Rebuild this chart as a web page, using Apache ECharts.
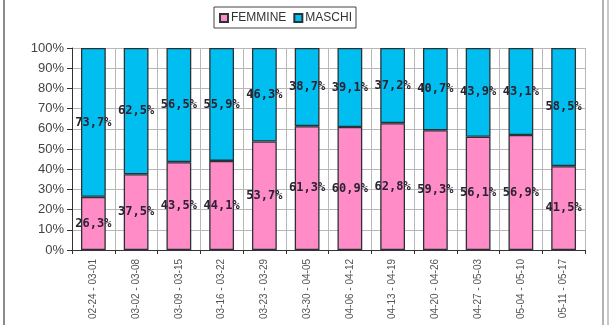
<!DOCTYPE html>
<html>
<head>
<meta charset="utf-8">
<script src="https://cdn.jsdelivr.net/npm/echarts@6/dist/echarts.min.js"></script>
<style>
html,body{margin:0;padding:0;background:#fff;}
#chart{width:612px;height:325px;}
</style>
</head>
<body>
<div id="chart"></div>
<script>
// Weekly split of cases by sex (percent)
const weeks = ['02-24 - 03-01','03-02 - 03-08','03-09 - 03-15','03-16 - 03-22','03-23 - 03-29','03-30 - 04-05',
               '04-06 - 04-12','04-13 - 04-19','04-20 - 04-26','04-27 - 05-03','05-04 - 05-10','05-11 - 05-17'];
const femmine = [26.3, 37.5, 43.5, 44.1, 53.7, 61.3, 60.9, 62.8, 59.3, 56.1, 56.9, 41.5];
const maschi  = [73.7, 62.5, 56.5, 55.9, 46.3, 38.7, 39.1, 37.2, 40.7, 43.9, 43.1, 58.5];
const yTicks = [0, 10, 20, 30, 40, 50, 60, 70, 80, 90, 100];

const chart = echarts.init(document.getElementById('chart'), null, {renderer: 'canvas'});

const pctLabel = {
  show: true,
  position: 'inside',
  fontFamily: 'DejaVu Sans Mono',
  fontWeight: 'bold',
  fontSize: 12,
  color: '#2b2230',
  formatter: p => p.value.toFixed(1).replace('.', ',') + '%'
};

chart.setOption({
  animation: false,
  backgroundColor: '#fff',
  graphic: [
    {type: 'line', shape: {x1: 4, y1: 0, x2: 4, y2: 325}, style: {stroke: '#8a8a8a', lineWidth: 2}},
    {type: 'line', shape: {x1: 603, y1: 0, x2: 603, y2: 325}, style: {stroke: '#9a9a9a', lineWidth: 1.5}},
    {type: 'line', shape: {x1: 608, y1: 0, x2: 608, y2: 325}, style: {stroke: '#c8c8c8', lineWidth: 2}}
  ],
  legend: {
    left: 214, top: 7,
    padding: [5, 4, 4, 5],
    borderColor: '#444', borderWidth: 1,
    itemWidth: 8, itemHeight: 8, itemGap: 7,
    icon: 'rect',
    textStyle: {fontFamily: 'Liberation Sans', fontSize: 12, color: '#333', padding: [0, 0, 0, -2]},
    data: ['FEMMINE', 'MASCHI']
  },
  grid: {left: 72, right: 27, top: 48, bottom: 75, containLabel: false, outerBoundsMode: 'none'},
  xAxis: {
    type: 'category',
    data: weeks,
    axisLine: {lineStyle: {color: '#333', width: 1}},
    axisTick: {show: true, length: 4, lineStyle: {color: '#333'}},
    splitLine: {show: true, lineStyle: {color: '#b8b8b8', width: 1}},
    axisLabel: {rotate: 90, margin: 9, fontSize: 10, fontFamily: 'Liberation Sans Narrow, Liberation Sans', color: '#555'}
  },
  yAxis: {
    type: 'value',
    min: yTicks[0], max: yTicks[yTicks.length - 1], interval: 10,
    axisLine: {show: true, lineStyle: {color: '#333'}},
    axisTick: {show: true, length: 5, lineStyle: {color: '#333'}},
    splitLine: {lineStyle: {color: '#b8b8b8', width: 1}},
    axisLabel: {formatter: '{value}%', fontSize: 13, fontFamily: 'Liberation Sans', color: '#444', margin: 8}
  },
  series: [
    {
      name: 'FEMMINE', type: 'bar', stack: 'tot', data: femmine, barWidth: '58%',
      itemStyle: {color: '#ff8cc6', borderColor: '#2a3238', borderWidth: 1.3},
      label: pctLabel
    },
    {
      name: 'MASCHI', type: 'bar', stack: 'tot', data: maschi, barWidth: '58%',
      itemStyle: {color: '#00bff0', borderColor: '#2a3238', borderWidth: 1.3},
      label: pctLabel
    }
  ]
});
</script>
</body>
</html>
